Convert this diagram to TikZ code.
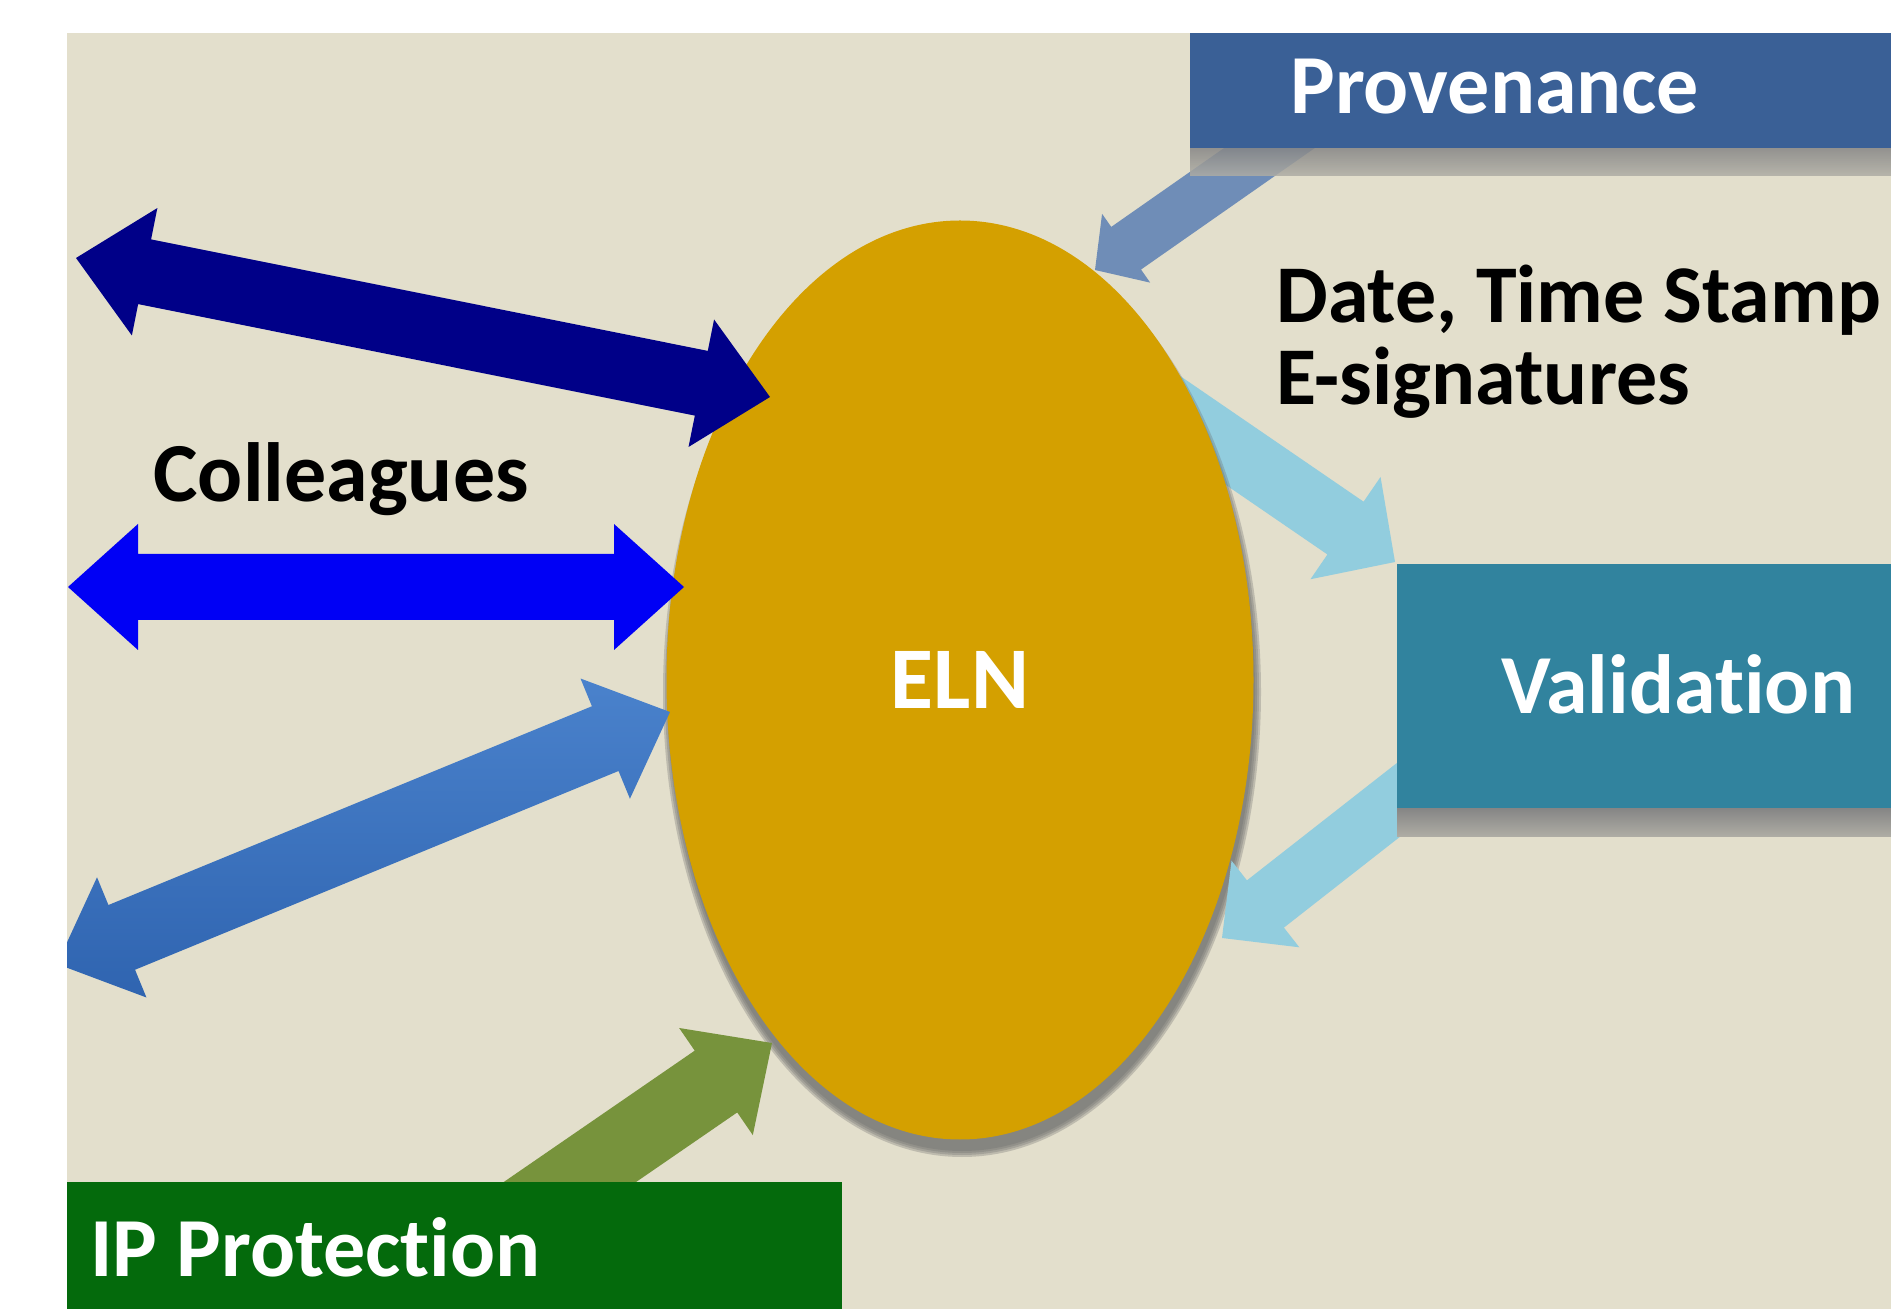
\documentclass[tikz,border=0pt]{standalone}
\usepackage{fontspec}
\setmainfont{Carlito}[Ligatures={NoCommon}]
\usetikzlibrary{calc,shapes.geometric}

\definecolor{bgbeige}{HTML}{E3DFCC}
\definecolor{navyc}{HTML}{000088}
\definecolor{brightblue}{HTML}{0000F5}
\definecolor{medblueL}{HTML}{4A82CC}
\definecolor{medblueD}{HTML}{2F64B0}
\definecolor{provblue}{HTML}{3A6096}
\definecolor{provarrow}{HTML}{6F8DB7}
\definecolor{lightblue}{HTML}{92CDDE}
\definecolor{valteal}{HTML}{31839E}
\definecolor{elngold}{HTML}{D4A000}
\definecolor{olivegreen}{HTML}{77933C}
\definecolor{ipgreen}{HTML}{046A0C}
\definecolor{shadowgray}{HTML}{858585}

% double-headed block arrow: style, end A, end B, half shaft, half head, head length
\newcommand{\dblarrow}[6]{%
\path[#1] let \p1=(#2), \p2=(#3), \n1={atan2(\y2-\y1,\x2-\x1)}, \n2={veclen(\x2-\x1,\y2-\y1)} in
 (#2)
 -- ($(#2)+(\n1:#6)+(\n1+90:#5)$)
 -- ($(#2)+(\n1:#6)+(\n1+90:#4)$)
 -- ($(#2)+(\n1:\n2-#6)+(\n1+90:#4)$)
 -- ($(#2)+(\n1:\n2-#6)+(\n1+90:#5)$)
 -- (#3)
 -- ($(#2)+(\n1:\n2-#6)+(\n1-90:#5)$)
 -- ($(#2)+(\n1:\n2-#6)+(\n1-90:#4)$)
 -- ($(#2)+(\n1:#6)+(\n1-90:#4)$)
 -- ($(#2)+(\n1:#6)+(\n1-90:#5)$)
 -- cycle;}

% single-headed block arrow: style, tail, tip, half shaft, half head, head length
\newcommand{\sglarrow}[6]{%
\path[#1] let \p1=(#2), \p2=(#3), \n1={atan2(\y2-\y1,\x2-\x1)}, \n2={veclen(\x2-\x1,\y2-\y1)} in
 ($(#2)+(\n1+90:#4)$)
 -- ($(#2)+(\n1:\n2-#6)+(\n1+90:#4)$)
 -- ($(#2)+(\n1:\n2-#6)+(\n1+90:#5)$)
 -- (#3)
 -- ($(#2)+(\n1:\n2-#6)+(\n1-90:#5)$)
 -- ($(#2)+(\n1:\n2-#6)+(\n1-90:#4)$)
 -- ($(#2)+(\n1-90:#4)$)
 -- cycle;}

\begin{document}
\begin{tikzpicture}[x=0.5pt,y=-0.5pt,
  lbl/.style={inner sep=0pt, anchor=base west, font=\fontsize{42}{50}\selectfont\bfseries},
  smalllbl/.style={lbl, font=\fontsize{41}{49}\selectfont\bfseries},
  boxshadow/.style={top color=shadowgray, bottom color=shadowgray!55!bgbeige}]
\useasboundingbox (0,0) rectangle (1891,1309);
\fill[white] (0,0) rectangle (1891,1309);
\fill[bgbeige] (67,33) rectangle (1891,1309);

\begin{scope}
\clip (67,33) rectangle (1891,1309);

% end points of the block arrows
\coordinate (navyA) at (76,258);
\coordinate (navyB) at (770,397);
\coordinate (blueA) at (68,587);
\coordinate (blueB) at (684,587);
\coordinate (medA) at (57,964);
\coordinate (medB) at (670,712);
\coordinate (greenT) at (442,1270);
\coordinate (greenH) at (772,1043);
\coordinate (provT) at (1341,98);
\coordinate (provH) at (1095,270);
\coordinate (lbaT) at (1106,364);
\coordinate (lbaH) at (1395,562);
\coordinate (lbbT) at (1420,783);
\coordinate (lbbH) at (1222,938);

% ELN -> Validation (behind the ellipse)
\sglarrow{fill=lightblue}{lbaT}{lbaH}{16pt}{31pt}{30pt}

% ellipse shadow
\foreach \d in {6,4,2,0}{
  \fill[shadowgray!80!black, opacity=0.3] (962,692) ellipse [x radius=146.5pt+\d*0.5pt, y radius=229.5pt+\d*0.5pt];
}
\node[ellipse, fill=elngold, minimum width=293.5pt, minimum height=459.5pt, inner sep=0pt,
  text=white, font=\fontsize{44}{50}\selectfont\bfseries] (eln) at (960,680) {ELN};

% colleagues arrows
\dblarrow{fill=navyc}{navyA}{navyB}{16.5pt}{32.5pt}{35pt}
\dblarrow{fill=brightblue}{blueA}{blueB}{16.5pt}{31.5pt}{35pt}
\dblarrow{top color=medblueL, bottom color=medblueD}{medA}{medB}{17.5pt}{32.5pt}{35pt}

% IP protection
\sglarrow{fill=olivegreen}{greenT}{greenH}{18.75pt}{32.5pt}{34pt}
\fill[ipgreen] (67,1182) rectangle (842,1309);

% Provenance
\sglarrow{fill=provarrow}{provT}{provH}{13pt}{21pt}{19pt}
\shade[boxshadow, opacity=0.85] (1190,148) rectangle (1891,176);
\fill[provblue] (1190,33) rectangle (1891,148);

% Validation -> ELN
\sglarrow{fill=lightblue}{lbbT}{lbbH}{15pt}{27.5pt}{27.5pt}
\shade[boxshadow] (1397,808) rectangle (1891,837);
\fill[valteal] (1397,564) rectangle (1891,808);

% labels
\node[lbl, text=white] (provlbl) at (1290,114) {Provenance};
\node[smalllbl] (datelbl) at (1276,323) {Date, Time Stamp};
\node[smalllbl] (esiglbl) at (1276,405) {E-signatures};
\node[lbl] (colllbl) at (153,502) {Colleagues};
\node[lbl, text=white] (vallbl) at (1501,714) {Validation};
\node[lbl, text=white] (iplbl) at (90,1276) {IP Protection};
\end{scope}
\end{tikzpicture}
\end{document}
